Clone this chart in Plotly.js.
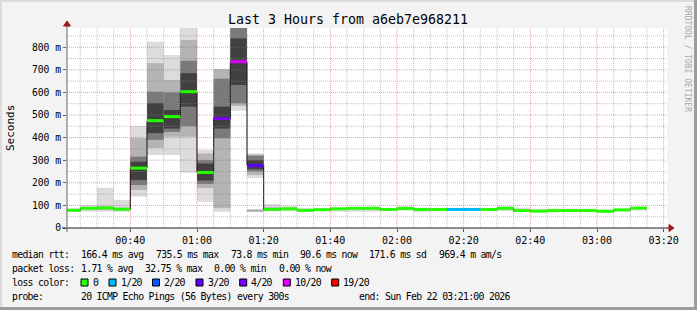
<!DOCTYPE html>
<html>
<head>
<meta charset="utf-8">
<script src="https://cdn.plot.ly/plotly-3.0.1.min.js"></script>
<style>
html,body{margin:0;padding:0;background:#f3f3f3;}
#chart{width:697px;height:310px;}
text.annotation-text[style*="9.8px"]{letter-spacing:-0.7px;}
</style>
</head>
<body>
<div id="chart"></div>
<script>
// ---------------- DATA ----------------
const day = '2026-02-22';
const rangeStart = '00:21';
const rangeEnd = '03:21';
const stepTimes = ['00:20','00:25','00:30','00:35','00:40','00:45','00:50','00:55','01:00','01:05','01:10','01:15',
  '01:20','01:25','01:30','01:35','01:40','01:45','01:50','01:55','02:00','02:05','02:10','02:15','02:20','02:25',
  '02:30','02:35','02:40','02:45','02:50','02:55','03:00','03:05','03:10'];
const medianMs = [78,87,89,83,265,475,493,603,246,484,735.5,276,
  82,85,78,81,85,87,87,82,86,82,82,82,82,82,87,77,74.5,77,77,77,73.8,80,88];
const lostPings = [0,0,0,0,0,0,0,0,0,4,10,3,
  0,0,0,0,0,0,0,0,0,0,0,1,1,0,0,0,0,0,0,0,0,0,0];
// smoke (ping spread), outer to inner bands, ms
const smokeMin = [74,72,72,72,139,323,323,245,116,72,519,221,
  74,74,74,75,72,72,72,76,78,72,76,76,76,76,74,72,70,72,72,72,70,74,78];
const smokeMax = [88,102,178,124,451,824,765,900,345,702,1000,330,
  105,97,88,88,90,90,90,88,97,90,88,88,88,88,96,90,85,86,86,86,82,86,92];
const N = null;
const band1Lo = [N,N,80,78,168,354,404,404,177,87,540,235,78,N,N,N,N,N,N,N,N,N,N,N,N,N,N,N,N,N,N,N,N,N,N];
const band1Hi = [N,N,95,90,397,729,655,832,330,702,1000,325,92,N,N,N,N,N,N,N,N,N,N,N,N,N,N,N,N,N,N,N,N,N,N];
const band2Lo = [N,N,N,N,190,390,425,450,195,397,552,250,N,N,N,N,N,N,N,N,N,N,N,N,N,N,N,N,N,N,N,N,N,N,N];
const band2Hi = [N,N,N,N,316,603,600,740,300,660,1000,320,N,N,N,N,N,N,N,N,N,N,N,N,N,N,N,N,N,N,N,N,N,N,N];
const band3Lo = [N,N,N,N,212,420,440,537,210,440,633,260,N,N,N,N,N,N,N,N,N,N,N,N,N,N,N,N,N,N,N,N,N,N,N];
const band3Hi = [N,N,N,N,293,553,522,685,285,537,839,300,N,N,N,N,N,N,N,N,N,N,N,N,N,N,N,N,N,N,N,N,N,N,N];
const tailLo  = [N,N,N,N,N,N,N,N,N,N,N,72,N,N,N,N,N,N,N,N,N,N,N,N,N,N,N,N,N,N,N,N,N,N,N];
const tailHi  = [N,N,N,N,N,N,N,N,N,N,N,82,N,N,N,N,N,N,N,N,N,N,N,N,N,N,N,N,N,N,N,N,N,N,N];

const yTickVals = [0,100,200,300,400,500,600,700,800];
const yTickText = ['0','100 m','200 m','300 m','400 m','500 m','600 m','700 m','800 m'];

const lossLevels = [0,1,2,3,4,10,19];
const lossLabels = ['0','1/20','2/20','3/20','4/20','10/20','19/20'];
const lossColors = ['#26ff00','#00b8ff','#0059ff','#5e00ff','#7e00ff','#dd00ff','#ff0000'];

const titleText = 'Last 3 Hours from a6eb7e968211';
const rttLabel = 'median rtt:';
const rttStats = ['166.4 ms avg','735.5 ms max','73.8 ms min','90.6 ms now','171.6 ms sd','969.4 m am/s'];
const lossLabel = 'packet loss:';
const lossStats = ['1.71 % avg','32.75 % max','0.00 % min','0.00 % now'];
const colorLabel = 'loss color:';
const probeLabel = 'probe:';
const probeText = '20 ICMP Echo Pings (56 Bytes) every 300s';
const endText = 'end: Sun Feb 22 03:21:00 2026';

// ---------------- LAYOUT CONSTANTS ----------------
const MONO = 'DejaVu Sans Mono';
const PL = 67, PT = 28, PW = 600, PH = 200, W = 697, H = 310;
const px = v => (v - PL) / PW;
const py = v => (PT + PH - v) / PH;

function toDate(hhmm, add) {
  const [h, m] = hhmm.split(':').map(Number);
  const t = h * 60 + m + (add || 0);
  return day + ' ' + String(Math.floor(t / 60)).padStart(2, '0') + ':' + String(t % 60).padStart(2, '0') + ':00';
}
const xStart = stepTimes.map(t => toDate(t, 0));
const xEnd = stepTimes.map(t => toDate(t, 5));

function band(lo, hi, color) {
  return {
    type: 'bar', x: xStart, base: lo,
    y: hi.map((h, i) => (h == null || lo[i] == null) ? null : h - lo[i]),
    width: 300000, offset: 0,
    marker: {color: color, line: {width: 0}},
    hoverinfo: 'skip', showlegend: false
  };
}

const traces = [
  band(smokeMin, smokeMax, '#dcdcdc'),
  band(tailLo, tailHi, '#a8a8a8'),
  band(band1Lo, band1Hi, '#b4b4b4'),
  band(band2Lo, band2Hi, '#7a7a7a'),
  band(band3Lo, band3Hi, '#404040'),
  {
    type: 'scatter', mode: 'lines',
    x: xStart.concat([xEnd[xEnd.length - 1]]),
    y: medianMs.concat([medianMs[medianMs.length - 1]]),
    line: {color: '#000', width: 1, shape: 'hv'},
    hoverinfo: 'skip', showlegend: false
  }
];

function lossIndex(n) {
  let idx = 0;
  lossLevels.forEach((l, i) => { if (n >= l) idx = i; });
  return idx;
}
lossColors.forEach((c, ci) => {
  const xs = [], ys = [];
  medianMs.forEach((m, i) => {
    if (lossIndex(lostPings[i]) === ci) {
      xs.push(xStart[i], xEnd[i], null);
      ys.push(m, m, null);
    }
  });
  if (xs.length) traces.push({
    type: 'scatter', mode: 'lines', x: xs, y: ys,
    line: {color: c, width: 3}, hoverinfo: 'skip', showlegend: false, connectgaps: false
  });
});

// ---------------- SHAPES ----------------
const shapes = [];
const minorCol = 'rgba(140,140,140,0.55)';
const majorCol = 'rgba(240,70,70,0.55)';
for (let t = 25; t <= 200; t += 5) {
  const hh = String(Math.floor(t / 60)).padStart(2, '0') + ':' + String(t % 60).padStart(2, '0');
  shapes.push({type: 'line', layer: 'above', xref: 'x', yref: 'paper', x0: toDate(hh, 0), x1: toDate(hh, 0), y0: 0, y1: 1,
    line: {color: t % 20 === 0 ? majorCol : minorCol, width: 1, dash: '1px,1px'}});
}
for (let v = 50; v <= 850; v += 50) {
  shapes.push({type: 'line', layer: 'above', xref: 'paper', yref: 'y', x0: 0, x1: 1, y0: v, y1: v,
    line: {color: v % 100 === 0 ? majorCol : minorCol, width: 1, dash: '1px,1px'}});
}
shapes.push({type: 'line', layer: 'above', xref: 'paper', yref: 'paper', x0: px(62), x1: px(670), y0: 0, y1: 0, line: {color: '#222', width: 1}});
shapes.push({type: 'line', layer: 'above', xref: 'paper', yref: 'paper', x0: 0, x1: 0, y0: py(232), y1: py(24), line: {color: '#666', width: 1}});
shapes.push({type: 'path', layer: 'above', xref: 'paper', yref: 'paper',
  path: `M ${px(63.5)},${py(26)} L ${px(67)},${py(21)} L ${px(70.5)},${py(26)} Z`, fillcolor: '#9b1a1a', line: {color: '#9b1a1a', width: 1}});
shapes.push({type: 'path', layer: 'above', xref: 'paper', yref: 'paper',
  path: `M ${px(669)},${py(224.5)} L ${px(674)},${py(228)} L ${px(669)},${py(231.5)} Z`, fillcolor: '#9b1a1a', line: {color: '#9b1a1a', width: 1}});
shapes.push({type: 'rect', layer: 'above', xref: 'paper', yref: 'paper', x0: px(0), x1: px(2), y0: py(310), y1: py(0), fillcolor: '#dcdcdc', line: {width: 0}});
shapes.push({type: 'rect', layer: 'above', xref: 'paper', yref: 'paper', x0: px(0), x1: px(697), y0: py(2), y1: py(0), fillcolor: '#dcdcdc', line: {width: 0}});
shapes.push({type: 'rect', layer: 'above', xref: 'paper', yref: 'paper', x0: px(694), x1: px(697), y0: py(310), y1: py(0), fillcolor: '#9c9c9c', line: {width: 0}});
shapes.push({type: 'rect', layer: 'above', xref: 'paper', yref: 'paper', x0: px(0), x1: px(697), y0: py(310), y1: py(307), fillcolor: '#9c9c9c', line: {width: 0}});

// ---------------- ANNOTATIONS ----------------
const ann = [];
const LEG = 9.8;
function txt(text, x, y, opts) {
  ann.push(Object.assign({
    text: text, xref: 'paper', yref: 'paper', x: px(x), y: py(y), xanchor: 'left', yanchor: 'middle',
    showarrow: false, borderpad: 0, borderwidth: 0, font: {family: MONO, size: LEG, color: '#000'}
  }, opts || {}));
}
const row = [254.7, 268.3, 282.3, 296];
const rttX = [80.7, 155.7, 230.7, 300, 369.3, 439.3];
const lossX = [80.7, 144.7, 214.3, 279];
const boxX = [81, 109, 152.5, 196, 239.7, 283.3, 331.7];
txt(rttLabel, 12.3, row[0]);
rttStats.forEach((s, i) => txt(s, rttX[i], row[0]));
txt(lossLabel, 12.3, row[1]);
lossStats.forEach((s, i) => txt(s, lossX[i], row[1]));
txt(colorLabel, 12.3, row[2]);
lossLabels.forEach((s, i) => {
  shapes.push({type: 'rect', layer: 'above', xref: 'paper', yref: 'paper',
    x0: px(boxX[i]), x1: px(boxX[i] + 7), y0: py(286), y1: py(279),
    fillcolor: lossColors[i], line: {color: '#000', width: 1}});
  txt(s, boxX[i] + 11.5, row[2]);
});
txt(probeLabel, 12.3, row[3]);
txt(probeText, 80.7, row[3]);
txt(endText, 359, row[3]);
txt('Seconds', 10, 128, {xanchor: 'center', textangle: -90, font: {family: MONO, size: 11, color: '#000'}});
txt('RRDTOOL / TOBI OETIKER', 688, 59, {xanchor: 'center', textangle: 90, font: {family: MONO, size: 8, color: '#a8a8a8'}});

const layout = {
  width: W, height: H,
  margin: {l: PL, r: W - PL - PW, t: PT, b: H - PT - PH, pad: 0},
  paper_bgcolor: '#f3f3f3', plot_bgcolor: '#ffffff',
  barmode: 'overlay',
  title: {text: titleText, font: {family: MONO, size: 13.3, color: '#000'},
    x: 348 / W, xanchor: 'center', xref: 'container', y: 1 - 19 / H, yanchor: 'middle', yref: 'container'},
  xaxis: {
    type: 'date', range: [toDate(rangeStart, 0), toDate(rangeEnd, 0)],
    tickformat: '%H:%M', dtick: 20 * 60 * 1000, tick0: day + ' 00:00:00',
    showgrid: false, zeroline: false, showline: false,
    ticks: 'outside', ticklen: 3, tickcolor: '#555',
    tickfont: {family: MONO, size: 10, color: '#000'}, fixedrange: true
  },
  yaxis: {
    range: [0, 885], tickvals: yTickVals, ticktext: yTickText,
    showgrid: false, zeroline: false, showline: false,
    ticks: 'outside', ticklen: 3, tickcolor: '#666',
    tickfont: {family: MONO, size: 9.7, color: '#000'}, fixedrange: true
  },
  shapes: shapes,
  annotations: ann
};

Plotly.newPlot('chart', traces, layout, {staticPlot: true, displayModeBar: false});
</script>
</body>
</html>
